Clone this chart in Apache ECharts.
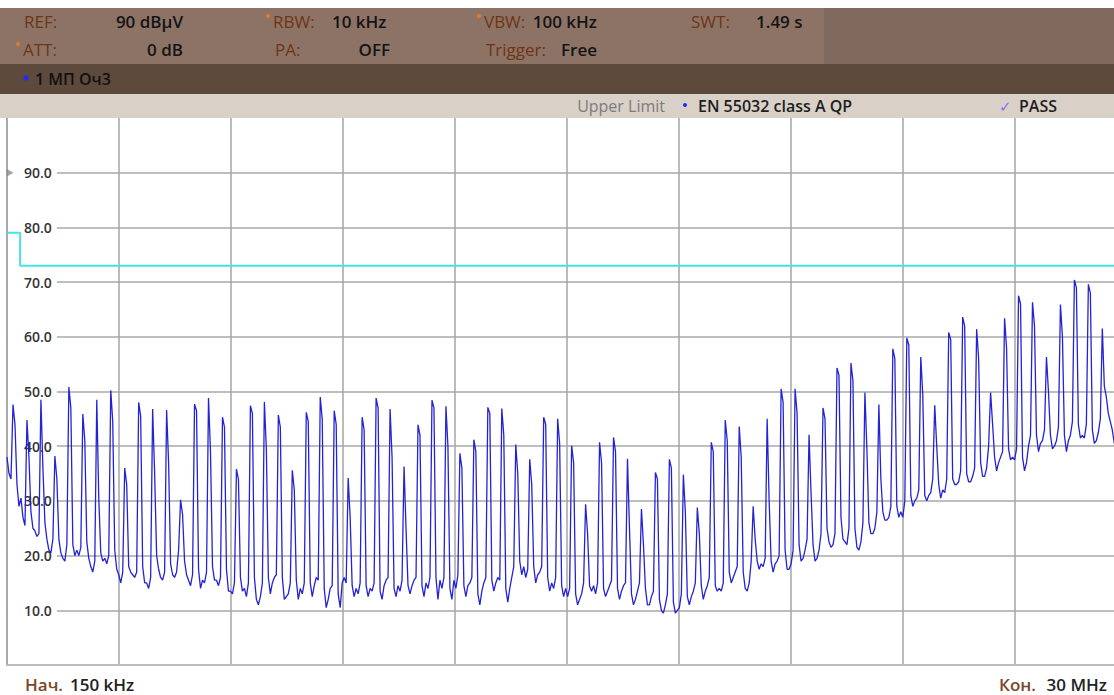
<!DOCTYPE html>
<html>
<head>
<meta charset="utf-8">
<script src="https://cdn.jsdelivr.net/npm/echarts@6/dist/echarts.min.js"></script>
<style>
html,body{margin:0;padding:0;background:#fff;overflow:hidden;width:1114px;height:695px;}
#chart{width:1127px;height:695px;}
</style>
</head>
<body>
<div id="chart"></div>
<script>
// Sweep grid of the analyser trace (MHz)
const sweepStartMHz = 0.15;
const sweepStepMHz = 0.053174;
const spanStartMHz = 0.15;
const spanStopMHz = 30;

// Trace levels (dBµV)
const traceLevelsA = [
  38,35,34,47.6,44,33,29,
  30.5,27,25.5,44.8,38,28,25,
  24.5,23.5,24,48.5,36,26,23,
  21,20.5,23,38.2,34,23,20.5,
  19.5,19,22,50.8,47,22,20,
  21,20,21.5,45.9,41,22.5,19.5,
  18,17,19,48.5,30.5,20.5,19,
  19.5,18.5,20,50.2,44.5,21,17.5,
  16.5,15,17,36.0,33,18,17,
  16.5,16,17,48.0,45.5,18,15,
  15,14,16,46.8,35,20,17.5,
  16,15.5,17,46.6,37,18.5,16.5,
  16,17,21,30.2,27.5,19,16.5,
  15.5,14.5,16.5,47.7,46.5,17.5,14,
  15.5,15,17,48.8,39,18,15.5,
  15.5,14.5,16,45.3,43.5,17.5,13.5,
  13.5,13,15,35.8,34,16,13.5,
  14,12.5,15,47.4,46,16,12,
  11,12.5,15,48.1,39.5,16,13,
  15,16,16.5,45.7,43.5,16,12,
  12.5,13,15,35.6,32,15.5,12,
  14,13,15,46.2,44.5,15,12.5,
  14.5,16,15.5,49.0,45,14,10.5,
  12,14,14.5,46.5,44,13,10.5,
  15,16,15,34.2,27,14.5,12.5,
  14,13,15,45.3,43,14.5,12.5
];
const traceLevelsB = [
  14,13.5,15,48.8,47,13.5,12,
  14.5,15.5,16,46.8,38,14,12.5,
  14.5,13.5,15.5,36.3,25,14.5,13,
  14.5,15.5,16,43.9,42,14.5,12.5,
  15,14,16,48.4,47,16,12,
  15.5,14,16,47.3,40,14,12,
  15.5,14,16.5,38.7,36,14.5,12.5,
  14.5,15,16,41.2,39,13,11,
  13.5,15,16,47.1,46,15.5,13.5,
  15,16,15.5,46.9,42,14,11.5,
  14,16,18,40.3,35,19,16.5,
  18,16,17.5,37.6,33,18,15,
  16.5,17,18,45.3,44,16,13.5,
  15,14,16,45.0,40.5,14.5,12.5,
  14,12.5,14,40.1,37,13,11,
  12,13,15,29.4,24,14.5,13.5,
  14.5,13,15,40.7,37,14,12.5,
  13.5,14.5,15.5,41.6,39,14,12,
  13.5,14.5,15,37.7,25,13,11,
  12,13.5,15,28.5,22,14,11,
  11,12.5,13.5,35.2,34,12,10,
  9.5,11,13,37.6,36,11.5,9.5,
  10,10.5,13,34.8,28,12.5,11,
  12.5,13.5,15,28.8,24,14.5,12,
  13.5,14.5,16,40.7,39,14.5,13.5,
  14,13.5,15,44.8,41,17,15,
  16,17,18,43.6,38,17,14
];
const traceLevelsC = [
  13.5,15,19,29.0,23,19,17.5,
  18.5,18,19.5,45.0,30,19,17,
  18.5,19,20,50.5,48,21,17.5,
  17.5,18.5,21,50.5,46,22,19,
  19.5,21,23,42.1,31.5,22,19,
  19.5,21,24,47.0,45,25,22.5,
  21.5,22,24,54.3,53,27,23,
  22.5,22,25,55.2,52,25,21.5,
  21,22.5,26,49.8,39.5,26,24,
  24,25,28,47.6,34,28,26.5,
  26.5,27,29,57.8,56,29,27,
  28,27,30,59.8,58.5,31,29,
  30,30.5,32,56.3,49.5,31,30,
  31,31.5,34,47.5,40,33,30.5,
  32,31.5,34,60.8,59.5,34,33,
  33,33.5,35.5,63.6,62,35,33.5,
  33.5,34.5,36,61.4,56,37,34.5,
  34.5,36,40,49.8,44,38,35.5,
  37,38,39,63.4,58,39.5,37.5,
  38,37.5,39.5,67.5,66,38,35.5,
  37,40,42,66.3,62,42,39,
  40.5,41,43,56.3,50,42,39.5,
  40,41,43.5,65.9,60,42,39,
  41,42,44.5,70.4,69,44,41.5,
  42,41.5,44,69.6,68,43,40.5,
  41,42.5,45,61.5,51,49,46,
  44.5,43,40.5,42,43,42,41.5,42.5,43
];

// Limit line EN 55032 class A QP
const limitFreqMHz = [0.15, 0.5, 0.5, 30];
const limitLevelDb = [79, 79, 73, 73];

// Reference level marker
const refLevelDb = 90;

// Y axis range / ticks
const yMin = 0, yMax = 100, yStep = 10;
const xDivisions = 10;

const traceLevels = traceLevelsA.concat(traceLevelsB, traceLevelsC);
const traceData = traceLevels.map((v, i) => [sweepStartMHz + i * sweepStepMHz, v]);
const limitData = limitFreqMHz.map((f, i) => [f, limitLevelDb[i]]);

const FONT = '"Open Sans", "Noto Sans", sans-serif';
const LBL = '#6e3515';
const VAL = '#141414';
const DOT = '#e8782a';

function txt(x, y, text, color, opts) {
  opts = opts || {};
  return {
    type: 'text', x: x, y: y, silent: true, z: 100,
    style: {
      text: text, fill: color, font: (opts.weight || '600') + ' ' + (opts.size || 17) + 'px ' + FONT,
      textAlign: opts.align || 'left', textVerticalAlign: 'middle'
    }
  };
}
function dot(x, y, r, color) {
  return { type: 'circle', shape: { cx: x, cy: y, r: r }, style: { fill: color }, silent: true, z: 100 };
}
function rect(x, y, w, h, color) {
  return { type: 'rect', shape: { x: x, y: y, width: w, height: h }, style: { fill: color }, silent: true, z: 90 };
}

const chart = echarts.init(document.getElementById('chart'), null, { renderer: 'svg' });
chart.setOption({
  backgroundColor: '#ffffff',
  animation: false,
  grid: { left: 7, top: 118, right: 0, bottom: 30, containLabel: false },
  xAxis: [
    { type: 'value', min: spanStartMHz, max: spanStopMHz, show: false },
    {
      type: 'value', min: 0, max: xDivisions, interval: 1, position: 'bottom',
      axisLine: { show: true, onZero: false, lineStyle: { color: '#bcbcbc', width: 2 } },
      axisTick: { show: false }, axisLabel: { show: false },
      splitLine: { show: true, lineStyle: { color: '#a4a4a4', width: 1.5 } }
    }
  ],
  yAxis: {
    type: 'value', min: yMin, max: yMax, interval: yStep,
    axisLine: { show: true, lineStyle: { color: '#a4a4a4', width: 1.5 } },
    axisTick: { show: false },
    splitLine: { show: true, showMinLine: false, showMaxLine: false, lineStyle: { color: '#a8a8a8', width: 1.5 } },
    axisLabel: {
      inside: true, margin: 1, showMinLabel: false, showMaxLabel: false,
      formatter: v => v.toFixed(1),
      color: '#333333', fontFamily: FONT, fontSize: 14, fontWeight: 600,
      backgroundColor: '#ffffff', padding: [3, 5, 3, 16]
    }
  },
  series: [
    {
      type: 'line', name: 'EN 55032 class A QP', xAxisIndex: 0, data: limitData,
      showSymbol: false, lineStyle: { color: '#45e2e8', width: 2 }, z: 3, silent: true
    },
    {
      type: 'line', name: '1 МП ОчЗ', xAxisIndex: 0, data: traceData,
      showSymbol: false, sampling: false, lineStyle: { color: '#2323d6', width: 1.3 }, z: 4, silent: true
    },
    {
      type: 'scatter', xAxisIndex: 0, data: [[spanStartMHz, refLevelDb]],
      symbol: 'triangle', symbolRotate: -90, symbolSize: [8, 7], symbolOffset: [3, 0],
      itemStyle: { color: '#8c8c8c' }, z: 5, silent: true
    }
  ],
  graphic: [
    rect(0, 8, 824, 56, '#8d7366'),
    rect(824, 8, 303, 56, '#7f695d'),
    rect(0, 64, 1127, 30, '#5d4a3d'),
    rect(0, 94, 1127, 24, '#d9d0c8'),
    // row 1
    txt(24, 21, 'REF:', LBL, { weight: 'normal' }),
    txt(183, 21, '90 dBµV', VAL, { align: 'right' }),
    dot(268, 16, 2, DOT),
    txt(273, 21, 'RBW:', LBL, { weight: 'normal' }),
    txt(332, 21, '10 kHz', VAL),
    dot(479, 16, 2, DOT),
    txt(484, 21, 'VBW:', LBL, { weight: 'normal' }),
    txt(597, 21, '100 kHz', VAL, { align: 'right' }),
    txt(691, 21, 'SWT:', LBL, { weight: 'normal' }),
    txt(756, 21, '1.49 s', VAL),
    // row 2
    dot(18, 44, 2, DOT),
    txt(23, 49, 'ATT:', LBL, { weight: 'normal' }),
    txt(183, 49, '0 dB', VAL, { align: 'right' }),
    txt(275, 49, 'PA:', LBL, { weight: 'normal' }),
    txt(390, 49, 'OFF', VAL, { align: 'right' }),
    txt(486, 49, 'Trigger:', LBL, { weight: 'normal' }),
    txt(597, 49, 'Free', VAL, { align: 'right' }),
    // trace band
    dot(26, 78, 2.5, '#1a2cff'),
    txt(35, 79, '1 МП Оч3', '#111111', { size: 16 }),
    // legend band
    txt(665, 106, 'Upper Limit', '#7c7c7c', { weight: 'normal', align: 'right', size: 16 }),
    dot(685, 105, 2, '#1a2cff'),
    txt(698, 106, 'EN 55032 class A QP', '#1e1e1e', { size: 16 }),
    txt(999, 106, '✓', '#8a6ff0', { size: 15, weight: 'normal' }),
    txt(1019, 106, 'PASS', '#1e1e1e', { size: 16 }),
    // footer
    txt(25, 684, 'Нач.', '#7a4628', { size: 17 }),
    txt(70, 684, '150 kHz', '#222222', { size: 17 }),
    txt(1036, 684, 'Кон.', '#7a4628', { size: 17, align: 'right' }),
    txt(1107, 684, '30 MHz', '#222222', { size: 17, align: 'right' })
  ]
});
</script>
</body>
</html>
